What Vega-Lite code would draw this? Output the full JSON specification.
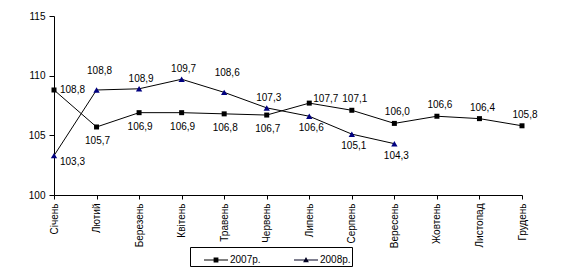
{
  "$schema": "https://vega.github.io/schema/vega-lite/v6.json",
  "width": 468,
  "height": 179,
  "autosize": {"type": "none"},
  "padding": {"left": 54, "top": 16, "right": 44, "bottom": 83},
  "background": "white",
  "config": {
    "view": {"stroke": null},
    "font": "Liberation Sans",
    "locale": {"number": {"decimal": ",", "thousands": " ", "grouping": [3], "currency": ["", ""]}},
    "axis": {"domainColor": "black", "tickColor": "black", "labelColor": "black", "labelFont": "Liberation Sans", "labelFontSize": 10, "grid": false, "title": null},
    "legend": {"orient": "none", "legendX": 136, "legendY": 231, "direction": "horizontal", "columns": 2, "title": null,
      "strokeColor": "black", "padding": 1, "symbolSize": 576, "symbolOffset": 13, "labelOffset": 2, "columnPadding": 20,
      "symbolStrokeWidth": 0, "symbolOpacity": 1,
      "labelFont": "Liberation Sans", "labelFontSize": 10, "labelColor": "black"}
  },
  "data": {"values": [
    {"month": "Січень", "series": "2007р.", "value": 108.8},
    {"month": "Лютий", "series": "2007р.", "value": 105.7},
    {"month": "Березень", "series": "2007р.", "value": 106.9},
    {"month": "Квітень", "series": "2007р.", "value": 106.9},
    {"month": "Травень", "series": "2007р.", "value": 106.8},
    {"month": "Червень", "series": "2007р.", "value": 106.7},
    {"month": "Липень", "series": "2007р.", "value": 107.7},
    {"month": "Серпень", "series": "2007р.", "value": 107.1},
    {"month": "Вересень", "series": "2007р.", "value": 106.0},
    {"month": "Жовтень", "series": "2007р.", "value": 106.6},
    {"month": "Листопад", "series": "2007р.", "value": 106.4},
    {"month": "Грудень", "series": "2007р.", "value": 105.8},
    {"month": "Січень", "series": "2008р.", "value": 103.3},
    {"month": "Лютий", "series": "2008р.", "value": 108.8},
    {"month": "Березень", "series": "2008р.", "value": 108.9},
    {"month": "Квітень", "series": "2008р.", "value": 109.7},
    {"month": "Травень", "series": "2008р.", "value": 108.6},
    {"month": "Червень", "series": "2008р.", "value": 107.3},
    {"month": "Липень", "series": "2008р.", "value": 106.6},
    {"month": "Серпень", "series": "2008р.", "value": 105.1},
    {"month": "Вересень", "series": "2008р.", "value": 104.3}
  ]},
  "encoding": {
    "x": {"field": "month", "type": "nominal",
      "sort": ["Січень", "Лютий", "Березень", "Квітень", "Травень", "Червень", "Липень", "Серпень", "Вересень", "Жовтень", "Листопад", "Грудень"],
      "scale": {"type": "point", "padding": 0},
      "axis": {"labelAngle": -90, "tickSize": 4, "labelPadding": 4}},
    "y": {"field": "value", "type": "quantitative",
      "scale": {"domain": [100, 115], "nice": false, "zero": false},
      "axis": {"values": [100, 105, 110, 115], "tickSize": 5, "labelPadding": 4}}
  },
  "resolve": {"scale": {"shape": "independent", "color": "independent"}, "legend": {"shape": "independent", "color": "independent"}},
  "layer": [
    {"mark": {"type": "line", "color": "black", "strokeWidth": 1}, "encoding": {"detail": {"field": "series"}}},
    {"mark": {"type": "point", "filled": true, "opacity": 1},
      "encoding": {
        "shape": {"field": "series", "type": "nominal", "scale": {"domain": ["2007р.", "2008р."], "range": ["square", "triangle-up"]}, "legend": null},
        "color": {"field": "series", "type": "nominal", "scale": {"domain": ["2007р.", "2008р."], "range": ["black", "#000080"]}, "legend": null},
        "size": {"condition": {"test": "datum.series === '2007р.'", "value": 25}, "value": 40}
      }},
    {"transform": [{"filter": "false"}],
      "mark": {"type": "point", "filled": true, "opacity": 1},
      "encoding": {
        "shape": {"field": "series", "type": "nominal", "scale": {"domain": ["2007р.", "2008р."],
          "range": ["M-1,-0.04H1V0.04H-1Z M-0.2,-0.2H0.2V0.2H-0.2Z", "M-1,-0.04H1V0.04H-1Z M0,-0.25L0.24,0.18H-0.24Z"]}},
        "color": {"field": "series", "type": "nominal", "scale": {"domain": ["2007р.", "2008р."], "range": ["black", "#000020"]}}
      }},
    {"transform": [{"filter": "datum.series === '2007р.' && datum.month === 'Січень'"}],
      "mark": {"type": "text", "align": "left", "baseline": "middle", "dx": 6, "dy": 0, "fontSize": 10, "color": "black"},
      "encoding": {"text": {"field": "value", "type": "quantitative", "format": ".1f"}}},
    {"transform": [{"filter": "datum.series === '2007р.' && indexof(['Лютий','Березень','Квітень','Травень','Червень'], datum.month) >= 0"}],
      "mark": {"type": "text", "align": "center", "baseline": "middle", "dx": 1, "dy": 14, "fontSize": 10, "color": "black"},
      "encoding": {"text": {"field": "value", "type": "quantitative", "format": ".1f"}}},
    {"transform": [{"filter": "datum.series === '2007р.' && datum.month === 'Липень'"}],
      "mark": {"type": "text", "align": "left", "baseline": "middle", "dx": 4, "dy": -4, "fontSize": 10, "color": "black"},
      "encoding": {"text": {"field": "value", "type": "quantitative", "format": ".1f"}}},
    {"transform": [{"filter": "datum.series === '2007р.' && indexof(['Серпень','Вересень','Жовтень','Листопад','Грудень'], datum.month) >= 0"}],
      "mark": {"type": "text", "align": "center", "baseline": "middle", "dx": 3, "dy": -11, "fontSize": 10, "color": "black"},
      "encoding": {"text": {"field": "value", "type": "quantitative", "format": ".1f"}}},
    {"transform": [{"filter": "datum.series === '2008р.' && datum.month === 'Січень'"}],
      "mark": {"type": "text", "align": "left", "baseline": "middle", "dx": 6, "dy": 6, "fontSize": 10, "color": "black"},
      "encoding": {"text": {"field": "value", "type": "quantitative", "format": ".1f"}}},
    {"transform": [{"filter": "datum.series === '2008р.' && indexof(['Лютий','Травень'], datum.month) >= 0"}],
      "mark": {"type": "text", "align": "center", "baseline": "middle", "dx": 3, "dy": -19, "fontSize": 10, "color": "black"},
      "encoding": {"text": {"field": "value", "type": "quantitative", "format": ".1f"}}},
    {"transform": [{"filter": "datum.series === '2008р.' && indexof(['Березень','Квітень','Червень'], datum.month) >= 0"}],
      "mark": {"type": "text", "align": "center", "baseline": "middle", "dx": 2, "dy": -10, "fontSize": 10, "color": "black"},
      "encoding": {"text": {"field": "value", "type": "quantitative", "format": ".1f"}}},
    {"transform": [{"filter": "datum.series === '2008р.' && indexof(['Липень','Серпень','Вересень'], datum.month) >= 0"}],
      "mark": {"type": "text", "align": "center", "baseline": "middle", "dx": 2, "dy": 12, "fontSize": 10, "color": "black"},
      "encoding": {"text": {"field": "value", "type": "quantitative", "format": ".1f"}}}
  ]
}
